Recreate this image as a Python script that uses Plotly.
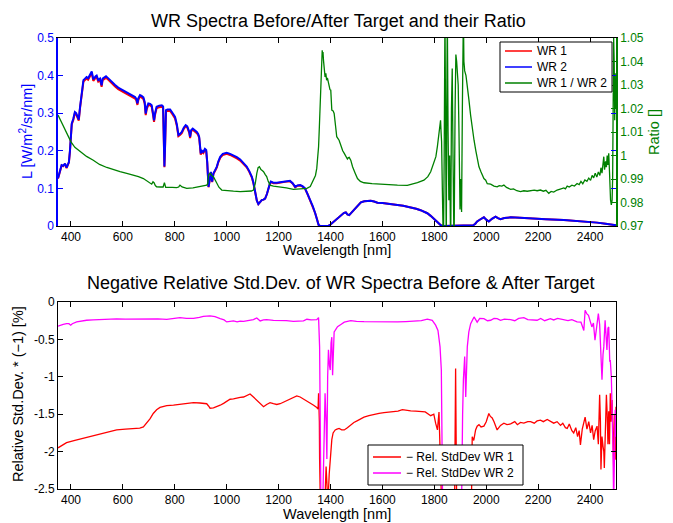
import plotly.graph_objects as go

# ---------------- data ----------------
wl_wr = [350,358,364,370,377,383,388,392,396,399,
         403,409,415,420,426,430,435,441,448,454,
         460,466,472,480,486,490,495,499,505,512,
         518,522,528,535,545,557,570,582,592,602,
         615,627,637,647,652,656,660,666,672,679,
         684,688,692,698,705,711,716,720,724,730,
         740,750,755,758,760,762,766,772,782,792,
         801,808,814,820,827,835,842,848,852,856,
         859,863,869,877,885,890,894,897,900,905,
         910,916,921,925,930,935,939,944,949,955,
         962,968,975,985,1000,1013,1026,1039,1052,1065,
         1077,1087,1097,1103,1110,1116,1122,1128,1135,1142,
         1148,1155,1161,1166,1170,1180,1193,1206,1219,1232,
         1244,1254,1264,1273,1283,1292,1302,1312,1322,1332,
         1341,1348,1354,1360,1370,1380,1390,1400,1410,1420,
         1427,1435,1445,1452,1459,1465,1472,1480,1491,1505,
         1517,1530,1542,1555,1568,1581,1600,1619,1640,1658,
         1680,1709,1730,1747,1760,1773,1786,1799,1810,1818,
         1825,1835,1850,1900,1940,1950,1958,1965,1978,1991,
         2000,2010,2022,2036,2045,2055,2070,2094,2130,2171,
         2230,2299,2360,2427,2460,2491,2500]

wr2 = [0.127,0.150,0.162,0.160,0.166,0.155,0.163,0.170,0.200,0.246,
       0.273,0.285,0.303,0.300,0.286,0.283,0.317,0.350,0.388,0.392,
       0.396,0.393,0.400,0.411,0.390,0.395,0.398,0.400,0.388,0.392,
       0.374,0.392,0.394,0.398,0.392,0.383,0.375,0.368,0.364,0.361,
       0.355,0.352,0.347,0.343,0.338,0.326,0.340,0.348,0.346,0.342,
       0.330,0.299,0.315,0.326,0.325,0.321,0.300,0.281,0.300,0.317,
       0.320,0.321,0.318,0.250,0.158,0.200,0.308,0.310,0.310,0.300,
       0.290,0.270,0.242,0.245,0.250,0.262,0.268,0.265,0.259,0.250,
       0.237,0.255,0.259,0.255,0.250,0.245,0.237,0.215,0.193,0.200,
       0.197,0.205,0.202,0.170,0.104,0.125,0.144,0.118,0.140,0.148,
       0.158,0.172,0.184,0.192,0.195,0.192,0.188,0.183,0.177,0.168,
       0.158,0.146,0.131,0.115,0.087,0.068,0.058,0.062,0.069,0.070,
       0.073,0.085,0.104,0.112,0.118,0.115,0.115,0.117,0.118,0.119,
       0.120,0.114,0.104,0.108,0.109,0.106,0.100,0.085,0.069,0.052,
       0.034,0.018,0.003,0.000,0.000,0.000,0.000,0.004,0.010,0.015,
       0.020,0.026,0.032,0.035,0.036,0.031,0.029,0.035,0.044,0.055,
       0.063,0.066,0.067,0.067,0.065,0.062,0.061,0.060,0.058,0.056,
       0.054,0.050,0.046,0.042,0.038,0.034,0.027,0.018,0.010,0.005,
       0.002,0.000,0.000,0.000,0.000,0.002,0.006,0.012,0.018,0.023,
       0.017,0.012,0.019,0.025,0.021,0.018,0.021,0.023,0.022,0.020,
       0.018,0.016,0.013,0.009,0.006,0.003,0.002]

wr1 = [0.126,0.149,0.161,0.159,0.165,0.154,0.162,0.169,0.198,0.244,
       0.270,0.282,0.300,0.297,0.283,0.280,0.314,0.346,0.384,0.388,
       0.392,0.389,0.396,0.407,0.386,0.391,0.394,0.396,0.384,0.388,
       0.370,0.388,0.390,0.394,0.388,0.379,0.371,0.364,0.360,0.357,
       0.351,0.348,0.343,0.339,0.334,0.322,0.336,0.344,0.342,0.338,
       0.326,0.295,0.311,0.322,0.321,0.317,0.296,0.277,0.296,0.313,
       0.316,0.317,0.314,0.247,0.156,0.197,0.304,0.306,0.306,0.296,
       0.286,0.266,0.239,0.242,0.247,0.259,0.265,0.262,0.256,0.247,
       0.234,0.252,0.256,0.252,0.247,0.242,0.234,0.212,0.190,0.197,
       0.194,0.202,0.199,0.168,0.103,0.124,0.143,0.117,0.139,0.146,
       0.156,0.170,0.181,0.189,0.192,0.189,0.185,0.180,0.174,0.165,
       0.156,0.144,0.129,0.114,0.086,0.068,0.058,0.062,0.069,0.070,
       0.073,0.085,0.103,0.111,0.117,0.114,0.114,0.116,0.117,0.118,
       0.119,0.113,0.103,0.107,0.108,0.105,0.099,0.084,0.068,0.052,
       0.034,0.018,0.003,0.000,0.000,0.000,0.000,0.004,0.010,0.015,
       0.020,0.026,0.032,0.035,0.036,0.031,0.029,0.035,0.044,0.055,
       0.063,0.066,0.067,0.067,0.065,0.062,0.061,0.060,0.058,0.056,
       0.054,0.050,0.046,0.042,0.038,0.034,0.027,0.018,0.010,0.005,
       0.002,0.000,0.000,0.000,0.000,0.002,0.006,0.012,0.018,0.023,
       0.017,0.012,0.019,0.025,0.021,0.018,0.021,0.023,0.022,0.020,
       0.018,0.016,0.013,0.009,0.006,0.003,0.002]

wl_ratio = [350,360,370,385,400,415,435,460,486,510,
            538,560,589,615,640,660,679,690,700,711,
            716,720,725,730,745,755,760,765,790,807,
            815,820,828,846,870,897,915,923,927,930,
            936,942,949,955,962,970,981,1000,1026,1052,
            1080,1095,1103,1110,1116,1121,1126,1132,1138,1142,
            1148,1154,1160,1167,1180,1206,1230,1257,1285,1309,
            1322,1335,1342,1347,1351,1354,1357,1360,1364,1366,
            1368,1370,1371,1373,1376,1379,1382,1385,1388,1392,
            1395,1398,1401,1405,1410,1414,1420,1424,1433,1440,
            1447,1453,1460,1465,1468,1472,1478,1485,1495,1504,
            1515,1529,1560,1594,1630,1658,1696,1715,1735,1760,
            1775,1786,1796,1806,1812,1818,1822,1824,1826,1828,
            1831,1835,1838,1841,1844,1846,1848,1850,1853,1856,
            1859,1863,1866,1869,1872,1876,1880,1883,1886,1889,
            1892,1895,1899,1902,1905,1908,1912,1914,1917,1922,
            1927,1933,1940,1946,1953,1960,1966,1972,1980,1991,
            1998,2004,2017,2030,2042,2050,2060,2068,2078,2094,
            2105,2118,2132,2145,2158,2171,2185,2196,2209,2220,
            2230,2241,2250,2260,2273,2285,2299,2305,2312,2320,
            2330,2340,2350,2358,2365,2372,2380,2388,2395,2402,
            2408,2414,2420,2426,2432,2438,2442,2446,2450,2453,
            2456,2460,2463,2466,2469,2472,2475,2477,2479,2482,
            2485,2487,2489,2491,2493,2495,2497,2499,2500]

ratio = [1.0172,1.0150,1.0129,1.0090,1.0058,1.0035,1.0016,0.9996,0.9980,0.9962,
         0.9949,0.9940,0.9931,0.9924,0.9917,0.9910,0.9902,0.9893,0.9887,0.9878,
         0.9888,0.9884,0.9872,0.9867,0.9866,0.9866,0.9884,0.9864,0.9864,0.9863,
         0.9866,0.9874,0.9866,0.9860,0.9862,0.9867,0.9870,0.9874,0.9880,0.9917,
         0.9924,0.9915,0.9910,0.9895,0.9881,0.9865,0.9853,0.9850,0.9848,0.9846,
         0.9846,0.9849,0.9853,0.9880,0.9924,0.9948,0.9952,0.9940,0.9935,0.9931,
         0.9920,0.9910,0.9890,0.9874,0.9870,0.9867,0.9862,0.9856,0.9858,0.9860,
         0.9868,0.9895,0.9915,0.9945,0.9990,1.0037,1.0120,1.0235,1.0380,1.0440,
         1.0448,1.0420,1.0440,1.0405,1.0360,1.0334,1.0350,1.0320,1.0330,1.0306,
         1.0300,1.0280,1.0278,1.0193,1.0190,1.0179,1.0120,1.0080,1.0065,1.0040,
         1.0020,1.0009,0.9995,0.9985,0.9990,0.9992,0.9980,0.9952,0.9925,0.9902,
         0.9890,0.9884,0.9880,0.9877,0.9876,0.9874,0.9873,0.9878,0.9885,0.9895,
         0.9910,0.9931,0.9960,0.9995,1.0040,1.0094,1.0140,1.0150,1.0100,1.0060,
         0.9850,0.9600,1.0000,1.0600,1.0000,0.9600,1.0200,1.0600,1.0100,0.9810,
         1.0000,0.9600,1.0200,1.0370,1.0000,0.9600,1.0200,1.0430,1.0400,1.0350,
         1.0300,1.0100,0.9770,0.9900,0.9760,1.0200,1.0600,1.0400,1.0360,1.0340,
         1.0300,1.0240,1.0170,1.0110,1.0065,1.0020,0.9980,0.9952,0.9930,0.9902,
         0.9895,0.9880,0.9878,0.9870,0.9867,0.9872,0.9870,0.9874,0.9864,0.9856,
         0.9858,0.9850,0.9846,0.9850,0.9848,0.9850,0.9853,0.9850,0.9853,0.9848,
         0.9852,0.9839,0.9847,0.9844,0.9853,0.9857,0.9862,0.9858,0.9870,0.9866,
         0.9874,0.9870,0.9881,0.9876,0.9890,0.9880,0.9896,0.9890,0.9904,0.9894,
         0.9915,0.9905,0.9925,0.9908,0.9930,0.9915,0.9948,0.9925,0.9965,0.9995,
         0.9940,0.9975,0.9950,1.0000,0.9960,1.0009,0.9930,0.9850,0.9810,0.9790,
         0.9810,0.9900,1.0200,1.0500,1.0400,1.0150,1.0350,1.0250,1.0200]

wl_sd1 = [350,383,415,448,480,512,545,576,610,640,
          665,679,692,705,717,730,743,769,795,820,
          846,872,897,923,930,936,949,962,975,988,
          1000,1013,1026,1040,1052,1065,1078,1090,1103,1116,
          1129,1142,1154,1167,1180,1193,1206,1219,1232,1244,
          1257,1270,1283,1296,1309,1322,1335,1347,1352,1354,
          1357,1358,1361,1375,1380,1383,1387,1390,1395,1400,
          1405,1410,1414,1418,1425,1433,1443,1453,1465,1478,
          1490,1504,1517,1529,1548,1568,1587,1606,1625,1645,
          1660,1677,1693,1709,1728,1747,1765,1786,1798,1805,
          1812,1818,1822,1828,1878,1881,1882,1884,1886,1943,
          1946,1952,1959,1965,1972,1980,1991,2000,2010,2016,
          2023,2030,2042,2055,2068,2080,2094,2110,2120,2132,
          2145,2160,2171,2185,2196,2209,2220,2235,2248,2260,
          2273,2286,2295,2305,2312,2320,2330,2337,2345,2352,
          2358,2363,2370,2376,2381,2388,2395,2402,2408,2414,
          2420,2427,2432,2437,2440,2442,2446,2450,2453,2455,
          2459,2463,2466,2469,2472,2475,2478,2481,2485,2488,
          2491,2494,2497,2500]

sd1 = [-1.95,-1.88,-1.85,-1.82,-1.79,-1.76,-1.735,-1.71,-1.70,-1.69,
       -1.685,-1.67,-1.62,-1.56,-1.49,-1.44,-1.41,-1.385,-1.38,-1.37,
       -1.355,-1.345,-1.35,-1.36,-1.39,-1.42,-1.415,-1.40,-1.38,-1.355,
       -1.33,-1.30,-1.295,-1.28,-1.275,-1.27,-1.25,-1.23,-1.27,-1.31,
       -1.36,-1.40,-1.37,-1.345,-1.36,-1.37,-1.36,-1.34,-1.32,-1.30,
       -1.28,-1.255,-1.27,-1.295,-1.32,-1.345,-1.38,-1.41,-1.43,-1.22,
       -1.6,-2.1,-2.7,-2.7,-2.5,-2.2,-2.45,-2.7,-2.3,-2.0,
       -1.84,-1.75,-1.73,-1.71,-1.70,-1.69,-1.71,-1.71,-1.68,-1.64,
       -1.61,-1.585,-1.56,-1.54,-1.52,-1.50,-1.49,-1.48,-1.475,-1.465,
       -1.46,-1.44,-1.45,-1.455,-1.46,-1.462,-1.47,-1.52,-1.50,-1.62,
       -1.71,-1.47,-1.84,-2.7,-2.7,-1.5,-0.89,-1.8,-2.7,-2.7,
       -1.80,-1.85,-1.71,-1.66,-1.64,-1.67,-1.66,-1.60,-1.49,-1.53,
       -1.55,-1.60,-1.71,-1.65,-1.62,-1.64,-1.63,-1.60,-1.64,-1.61,
       -1.62,-1.60,-1.60,-1.62,-1.59,-1.58,-1.60,-1.57,-1.60,-1.62,
       -1.60,-1.65,-1.62,-1.68,-1.69,-1.63,-1.72,-1.75,-1.68,-1.80,
       -1.72,-1.91,-1.70,-1.62,-1.54,-1.70,-1.60,-1.75,-1.65,-1.84,
       -1.72,-1.66,-1.9,-1.24,-1.6,-2.24,-1.8,-1.93,-2.0,-2.22,
       -1.7,-1.24,-1.5,-1.9,-1.46,-1.9,-1.22,-1.6,-1.31,-2.0,
       -2.2,-1.5,-2.11,-1.4]

wl_sd2 = [350,360,370,383,392,399,405,422,440,460,
          485,512,545,576,610,640,670,705,735,769,
          795,820,845,872,895,910,936,955,975,990,
          1000,1013,1026,1040,1052,1065,1080,1095,1103,1116,
          1129,1142,1154,1180,1206,1230,1257,1280,1296,1309,
          1325,1347,1354,1358,1361,1363,1370,1375,1379,1383,
          1386,1389,1392,1396,1399,1402,1405,1408,1411,1414,
          1418,1427,1440,1453,1478,1500,1529,1560,1594,1630,
          1658,1690,1722,1750,1773,1792,1805,1814,1822,1827,
          1832,1905,1909,1912,1917,1921,1927,1933,1940,1947,
          1953,1960,1965,1975,1991,2005,2017,2030,2042,2055,
          2070,2094,2110,2125,2145,2160,2175,2196,2210,2225,
          2247,2260,2275,2299,2315,2330,2350,2365,2376,2381,
          2388,2394,2400,2407,2413,2419,2425,2432,2437,2442,
          2446,2450,2453,2458,2462,2465,2469,2472,2476,2478,
          2482,2485,2488,2491,2494,2497,2500]

sd2 = [-0.324,-0.31,-0.30,-0.289,-0.29,-0.31,-0.29,-0.266,-0.255,-0.244,
       -0.24,-0.235,-0.23,-0.226,-0.228,-0.226,-0.222,-0.218,-0.225,-0.231,
       -0.222,-0.209,-0.22,-0.218,-0.205,-0.191,-0.186,-0.195,-0.222,-0.24,
       -0.266,-0.26,-0.253,-0.265,-0.255,-0.258,-0.25,-0.24,-0.235,-0.213,
       -0.253,-0.24,-0.235,-0.245,-0.244,-0.25,-0.258,-0.26,-0.253,-0.231,
       -0.24,-0.235,-0.209,-0.6,-1.8,-2.7,-2.7,-1.5,-1.22,-1.6,
       -2.1,-1.0,-0.64,-0.85,-0.91,-0.55,-0.47,-0.98,-0.45,-0.40,
       -0.38,-0.33,-0.30,-0.27,-0.25,-0.26,-0.263,-0.265,-0.27,-0.265,
       -0.266,-0.262,-0.253,-0.25,-0.23,-0.245,-0.31,-0.38,-0.6,-0.91,
       -2.7,-2.7,-1.5,-1.04,-0.73,-1.27,-0.6,-0.4,-0.29,-0.25,
       -0.20,-0.24,-0.27,-0.22,-0.222,-0.25,-0.244,-0.22,-0.222,-0.245,
       -0.23,-0.235,-0.25,-0.22,-0.209,-0.235,-0.24,-0.244,-0.22,-0.25,
       -0.222,-0.24,-0.22,-0.244,-0.25,-0.235,-0.266,-0.27,-0.38,-0.11,
       -0.16,-0.178,-0.25,-0.333,-0.28,-0.51,-0.35,-0.155,-0.30,-0.64,
       -1.04,-0.70,-0.60,-0.244,-0.5,-0.64,-0.35,-0.333,-0.8,-0.777,
       -1.0,-1.31,-1.9,-2.7,-2.0,-1.44,-1.8]

x_ticks = [400, 600, 800, 1000, 1200, 1400, 1600, 1800, 2000, 2200, 2400]
yl_ticks = [0, 0.1, 0.2, 0.3, 0.4, 0.5]
yl_text = ["0", "0.1", "0.2", "0.3", "0.4", "0.5"]
yr_ticks = [0.97, 0.98, 0.99, 1.0, 1.01, 1.02, 1.03, 1.04, 1.05]
yr_text = ["0.97", "0.98", "0.99", "1", "1.01", "1.02", "1.03", "1.04", "1.05"]
yb_ticks = [-2.5, -2, -1.5, -1, -0.5, 0]
yb_text = ["-2.5", "-2", "-1.5", "-1", "-0.5", "0"]

top_names = ["WR 1", "WR 2", "WR 1 / WR 2"]
bot_names = ["\u2212 Rel. StdDev WR 1", "\u2212 Rel. StdDev WR 2"]

assert len(wl_wr) == len(wr1) == len(wr2)
assert len(wl_ratio) == len(ratio)
assert len(wl_sd1) == len(sd1)
assert len(wl_sd2) == len(sd2)

# ---------------- figure ----------------
W, H = 673, 523
FONT = "Liberation Sans, Arial, Helvetica, sans-serif"
BLUE = "#0000ff"
RED = "#ff0000"
GREEN = "#008000"
MAG = "#ff00ff"


def fx(p):
    return p / W


def fy(p):
    return 1 - p / H


fig = go.Figure()
fig.add_trace(go.Scatter(x=wl_wr, y=wr1, mode="lines", name=top_names[0],
                         line=dict(color=RED, width=2), xaxis="x", yaxis="y"))
fig.add_trace(go.Scatter(x=wl_wr, y=wr2, mode="lines", name=top_names[1],
                         line=dict(color=BLUE, width=2), xaxis="x", yaxis="y"))
fig.add_trace(go.Scatter(x=wl_ratio, y=ratio, mode="lines", name=top_names[2],
                         line=dict(color=GREEN, width=1.3), xaxis="x", yaxis="y2"))
fig.add_trace(go.Scatter(x=wl_sd1, y=sd1, mode="lines", name=bot_names[0],
                         line=dict(color=RED, width=1.3), xaxis="x2", yaxis="y3"))
fig.add_trace(go.Scatter(x=wl_sd2, y=sd2, mode="lines", name=bot_names[1],
                         line=dict(color=MAG, width=1.3), xaxis="x2", yaxis="y3"))

xdom = [fx(58), fx(616)]
common_x = dict(range=[350, 2500], tickvals=x_ticks, ticks="inside", ticklen=5,
                tickcolor="black", showline=True, linecolor="black", linewidth=1,
                mirror="ticks", showgrid=False, zeroline=False, automargin=False,
                tickfont=dict(size=12, color="black", family=FONT))

fig.update_layout(
    template="none",
    width=W, height=H, autosize=False,
    margin=dict(l=0, r=0, t=0, b=0, pad=0, autoexpand=False),
    paper_bgcolor="white", plot_bgcolor="white",
    font=dict(family=FONT, size=12, color="black"),
    showlegend=False,
    xaxis=dict(domain=xdom, anchor="y", **common_x),
    yaxis=dict(domain=[fy(226), fy(38)], range=[0, 0.5], tickvals=yl_ticks,
               ticktext=yl_text, ticks="inside", ticklen=5, tickcolor=BLUE,
               showline=True, linecolor=BLUE, linewidth=1.5, mirror="ticks",
               showgrid=False, zeroline=False, anchor="x", automargin=False,
               tickfont=dict(size=12, color=BLUE, family=FONT)),
    yaxis2=dict(overlaying="y", side="right", range=[0.97, 1.05], tickvals=yr_ticks,
                ticktext=yr_text, ticks="inside", ticklen=5, tickcolor=GREEN,
                showline=True, linecolor=GREEN, linewidth=1.5, showgrid=False,
                zeroline=False, anchor="x", automargin=False,
                tickfont=dict(size=12, color=GREEN, family=FONT)),
    xaxis2=dict(domain=xdom, anchor="y3", **common_x),
    yaxis3=dict(domain=[fy(489), fy(302)], range=[-2.5, 0], tickvals=yb_ticks,
                ticktext=yb_text, ticks="inside", ticklen=5, tickcolor="black",
                showline=True, linecolor="black", linewidth=1, mirror="ticks",
                showgrid=False, zeroline=False, anchor="x2", automargin=False,
                tickfont=dict(size=12, color="black", family=FONT)),
)

ann = [
    dict(text="WR Spectra Before/After Target and their Ratio", x=fx(338), y=fy(21),
         font=dict(size=18, color="black")),
    dict(text="Negative Relative Std.Dev. of WR Spectra Before &amp; After Target",
         x=fx(341), y=fy(283), font=dict(size=18, color="black")),
    dict(text="Wavelength [nm]", x=fx(337), y=fy(250), font=dict(size=14.5, color="black")),
    dict(text="Wavelength [nm]", x=fx(337), y=fy(514), font=dict(size=14.5, color="black")),
    dict(text="L [W/m<sup>2</sup>/sr/nm]", x=fx(26), y=fy(132), textangle=-90,
         font=dict(size=14.5, color=BLUE)),
    dict(text="Ratio []", x=fx(654), y=fy(132), textangle=-90,
         font=dict(size=14.5, color=GREEN)),
    dict(text="Relative Std.Dev. * (\u22121) [%]", x=fx(18), y=fy(394), textangle=-90,
         font=dict(size=14.5, color="black")),
]
for a in ann:
    a.update(xanchor="center", yanchor="middle")

# legends (box, sample lines and labels placed in figure pixels)
shapes = []
legend_specs = [
    # (box x0, y0, x1, y1, line x0, line x1, row centres, names, colours)
    (500, 42, 612, 92, 505, 532, [51, 67, 83], top_names, [RED, BLUE, GREEN]),
    (368, 445, 523, 485, 373, 401, [457, 473], bot_names, [RED, MAG]),
]
for bx0, by0, bx1, by1, lx0, lx1, rows, names, cols in legend_specs:
    shapes.append(dict(type="rect", xref="paper", yref="paper",
                       x0=fx(bx0), x1=fx(bx1), y0=fy(by1), y1=fy(by0),
                       line=dict(color="black", width=1), fillcolor="white",
                       layer="above"))
    for ry, nm, col in zip(rows, names, cols):
        shapes.append(dict(type="line", xref="paper", yref="paper",
                           x0=fx(lx0), x1=fx(lx1), y0=fy(ry), y1=fy(ry),
                           line=dict(color=col, width=1.5), layer="above"))
        ann.append(dict(text=nm, x=fx(lx1 + 3), y=fy(ry), xanchor="left",
                        yanchor="middle", font=dict(size=12, color="black")))

for a in ann:
    a.update(xref="paper", yref="paper", showarrow=False)
    a["font"]["family"] = FONT

fig.update_layout(annotations=ann, shapes=shapes)

fig.write_html("out.html")
